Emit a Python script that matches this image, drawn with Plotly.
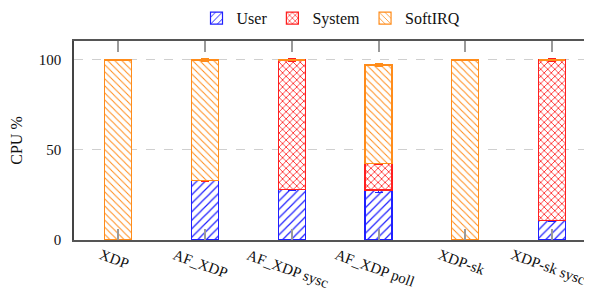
import plotly.graph_objects as go

categories = ["XDP", "AF_XDP", "AF_XDP sysc", "AF_XDP poll", "XDP-sk", "XDP-sk sysc"]
user = [0.0, 33.2, 28.1, 27.8, 0.0, 10.9]
system = [0.0, 0.0, 71.9, 14.8, 0.0, 89.1]
softirq = [100.0, 66.8, 0.0, 54.6, 100.0, 0.0]
user_err = [0.3, 0.6, 0.3, 1.5, 0.3, 0.5]
system_err = [0.3, 0.3, 0.5, 0.6, 0.3, 0.6]
softirq_err = [0.2, 0.6, 0.0, 0.6, 0.2, 0.0]
y_ticks = [0, 50, 100]

FONT = "Liberation Serif"
series = [
    ("User", user, user_err, "#1f1fff", "/", 6, 0.2),
    ("System", system, system_err, "#ff1f1f", "x", 5, 0.3),
    ("SoftIRQ", softirq, softirq_err, "#ff8c1a", "\\", 5, 0.2),
]

fig = go.Figure()
for name, vals, errs, col, shape, sz, sol in series:
    fig.add_trace(go.Bar(
        name=name, x=categories, y=vals, width=0.31,
        marker=dict(color=col, line=dict(color=col, width=1.2),
                    pattern=dict(shape=shape, fgcolor=col, bgcolor="white",
                                 size=sz, solidity=sol, fillmode="replace")),
        error_y=dict(type="data", array=errs, visible=True, color=col,
                     thickness=1.5, width=4),
    ))

for c in categories:
    fig.add_annotation(x=c, y=0, xref="x", yref="y", text=c, showarrow=False,
                       textangle=20, xanchor="center", yanchor="top",
                       yshift=-4, xshift=-4,
                       font=dict(family=FONT, size=15, color="#111"))

fig.update_layout(
    width=584, height=282,
    margin=dict(l=66, r=4, t=33, b=50, autoexpand=False),
    barmode="stack",
    plot_bgcolor="white", paper_bgcolor="white",
    font=dict(family=FONT, size=15, color="#111"),
    showlegend=True,
    legend=dict(orientation="h", x=0.5, xanchor="center", y=1.2, yanchor="top",
                yref="paper", traceorder="normal",
                font=dict(family=FONT, size=16, color="#111"),
                itemwidth=30, bgcolor="rgba(0,0,0,0)"),
    xaxis=dict(range=[-0.51, 5.415], showticklabels=False, ticks="inside",
               ticklen=11, tickcolor="#9a9a9a", tickwidth=1.5,
               showline=True, linecolor="#555", linewidth=1.5, mirror="ticks",
               showgrid=False, zeroline=False, automargin=False),
    yaxis=dict(range=[0, 110.5], tickvals=y_ticks, ticks="", showline=True,
               linecolor="#444", linewidth=1.5, mirror=False, automargin=False,
               showgrid=True, gridcolor="#cfcfcf", griddash="dash", gridwidth=1.2,
               zeroline=False, ticklabelstandoff=8,
               tickfont=dict(family=FONT, size=15),
               title=dict(text="CPU %", standoff=16, font=dict(family=FONT, size=16))),
)

fig.write_html("out.html")
